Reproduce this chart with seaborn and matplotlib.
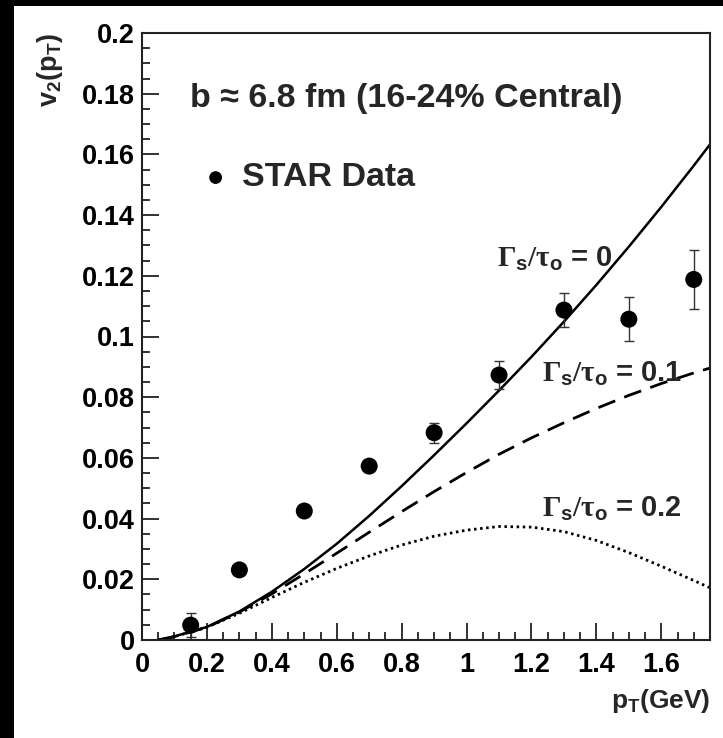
import numpy as np
import pandas as pd
import matplotlib
matplotlib.use("Agg")
import matplotlib.pyplot as plt
from matplotlib.patches import Rectangle
from matplotlib.ticker import MultipleLocator, FuncFormatter
import seaborn as sns

# ---------------- data ----------------
star_pt = [0.15, 0.3, 0.5, 0.7, 0.9, 1.1, 1.3, 1.5, 1.7]
star_v2 = [0.0049, 0.0231, 0.0425, 0.0573, 0.0683, 0.0873, 0.1087, 0.1057, 0.1188]
star_err = [0.004, 0.001, 0.001, 0.001, 0.0033, 0.0045, 0.0055, 0.0072, 0.0097]

curve_pt = [0.05, 0.1, 0.2, 0.3, 0.4, 0.5, 0.6, 0.7, 0.8, 0.9, 1.0,
            1.1, 1.2, 1.3, 1.4, 1.5, 1.6, 1.7, 1.75]
v2_g0 = [0.0, 0.0012, 0.0043, 0.0094, 0.0159, 0.0234, 0.0317, 0.0409, 0.0507, 0.0609,
         0.0714, 0.0822, 0.0933, 0.1049, 0.1170, 0.1296, 0.1427, 0.1563, 0.1633]
v2_g01 = [0.0, 0.0011, 0.0042, 0.0092, 0.0152, 0.0218, 0.0286, 0.0355, 0.0423, 0.0489,
          0.0552, 0.0612, 0.0666, 0.0716, 0.0763, 0.0806, 0.0845, 0.0880, 0.0896]
v2_g02 = [0.0, 0.0011, 0.0042, 0.0088, 0.0140, 0.0190, 0.0236, 0.0277, 0.0313, 0.0342,
          0.0362, 0.0374, 0.0372, 0.0357, 0.0328, 0.0288, 0.0243, 0.0196, 0.0172]

x_ticks = [0, 0.2, 0.4, 0.6, 0.8, 1.0, 1.2, 1.4, 1.6]
y_ticks = [0, 0.02, 0.04, 0.06, 0.08, 0.1, 0.12, 0.14, 0.16, 0.18, 0.2]

curve_labels = [r"$\Gamma_{\mathbf{s}}/\tau_{\mathbf{o}}$ = 0",
                r"$\Gamma_{\mathbf{s}}/\tau_{\mathbf{o}}$ = 0.1",
                r"$\Gamma_{\mathbf{s}}/\tau_{\mathbf{o}}$ = 0.2"]
header_text = "b \u2248 6.8 fm (16-24% Central)"
legend_text = "STAR Data"

# ---------------- style ----------------
sns.set_theme(style="ticks")
plt.rcParams["font.family"] = ["Liberation Sans", "DejaVu Sans"]
plt.rcParams["font.weight"] = "bold"
plt.rcParams["mathtext.fontset"] = "custom"
plt.rcParams["mathtext.rm"] = "Liberation Serif"
plt.rcParams["mathtext.it"] = "Liberation Serif"
plt.rcParams["mathtext.bf"] = "Liberation Sans:bold"
plt.rcParams["mathtext.sf"] = "Liberation Sans:bold"

fig = plt.figure(figsize=(7.23, 7.38), dpi=100)
fig.patch.set_facecolor("white")
fig.add_artist(Rectangle((0, 0), 14 / 723, 1, transform=fig.transFigure,
                         facecolor="black", edgecolor="none", zorder=10))
fig.add_artist(Rectangle((0, 1 - 6 / 738), 1, 6 / 738, transform=fig.transFigure,
                         facecolor="black", edgecolor="none", zorder=10))

ax = fig.add_axes([142 / 723, (738 - 640) / 738, (710 - 142) / 723, (640 - 33) / 738])
ax.set_facecolor("white")

df = pd.DataFrame({"pt": curve_pt, "g0": v2_g0, "g01": v2_g01, "g02": v2_g02})
sns.lineplot(data=df, x="pt", y="g0", ax=ax, color="black", lw=1.8)
ax.lines[-1].set_solid_joinstyle("round")
sns.lineplot(data=df, x="pt", y="g01", ax=ax, color="black", lw=2.0)
ax.lines[-1].set_dashes((6.5, 3.5))
sns.lineplot(data=df, x="pt", y="g02", ax=ax, color="black", lw=2.0)
ax.lines[-1].set_dashes((0.9, 1.3))

ax.errorbar(star_pt, star_v2, yerr=star_err, fmt="none", ecolor="#333333",
            elinewidth=1.0, capsize=3.5, capthick=1.0, zorder=3)
sns.scatterplot(x=star_pt, y=star_v2, ax=ax, color="black", s=150,
                edgecolor="none", zorder=4, label=legend_text)

ax.set_xlim(0, 1.75)
ax.set_ylim(0, 0.2)
ax.xaxis.set_minor_locator(MultipleLocator(0.05))
ax.yaxis.set_minor_locator(MultipleLocator(0.005))
ax.set_xticks(x_ticks)
ax.set_yticks(y_ticks)
fmt = FuncFormatter(lambda v, p: "%g" % round(v, 4))
ax.xaxis.set_major_formatter(fmt)
ax.yaxis.set_major_formatter(fmt)

ax.tick_params(which="both", direction="in", top=False, right=False,
               colors="#222222", width=1.3)
ax.tick_params(which="major", length=12, labelsize=19.5, labelcolor="black")
ax.tick_params(axis="y", which="major", pad=5)
ax.tick_params(axis="x", which="major", pad=9)
ax.tick_params(which="minor", length=6)
for lab in ax.get_xticklabels() + ax.get_yticklabels():
    lab.set_fontweight("bold")
for sp in ax.spines.values():
    sp.set_visible(True)
    sp.set_linewidth(1.5)
    sp.set_color("#222222")

ax.set_ylabel(r"$\mathbf{v_2(p_T)}$", fontsize=19.5, loc="top")
ax.yaxis.set_label_coords(-0.135, 1.0)
ax.set_xlabel(r"$\mathbf{p_T(GeV)}$", fontsize=19, loc="right")
ax.xaxis.set_label_coords(1.0, -0.077)

ax.text(0.148, 0.1785, header_text, fontsize=24.5, fontweight="bold",
        ha="left", va="center")

leg = ax.legend(loc="center left", bbox_to_anchor=((202 - 142) / 568, (640 - 178) / 607),
                frameon=False, fontsize=24.5, handlelength=0.8, handletextpad=0.38,
                borderpad=0, borderaxespad=0, markerscale=0.75)
for t in leg.get_texts():
    t.set_fontweight("bold")

label_pos = [(1.094, 0.1229), (1.233, 0.0850), (1.233, 0.0405)]
for (lx, ly), txt in zip(label_pos, curve_labels):
    ax.text(lx, ly, txt, fontsize=21, fontweight="bold", ha="left", va="baseline")

fig.savefig("out.png", dpi=100, facecolor="white")
